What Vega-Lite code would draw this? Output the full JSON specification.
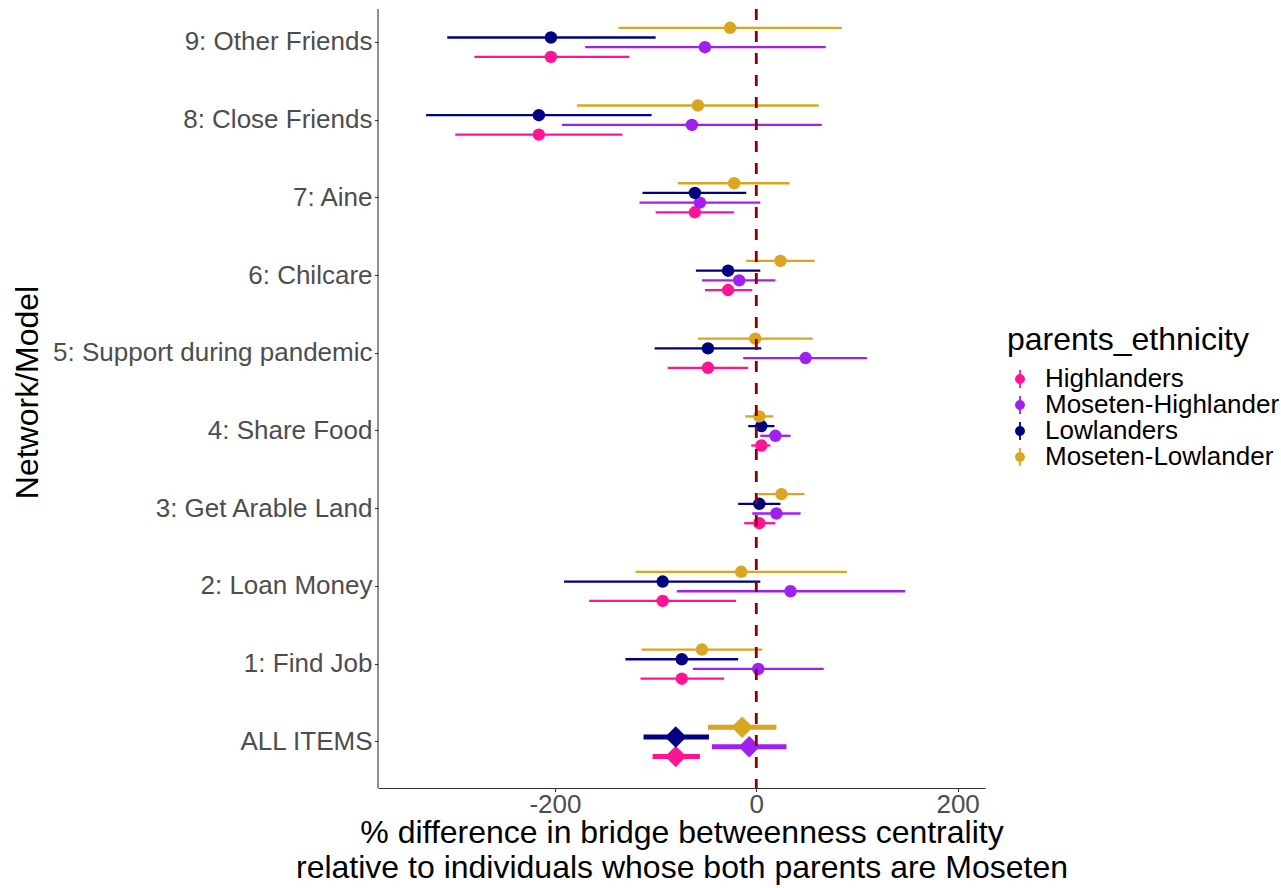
{
  "$schema": "https://vega.github.io/schema/vega-lite/v6.json",
  "width": 607,
  "height": 779,
  "autosize": {"type": "none"},
  "padding": {"left": 378, "top": 9, "right": 296, "bottom": 100},
  "background": "white",
  "config": {
    "view": {"stroke": null},
    "font": "Liberation Sans",
    "axis": {"grid": false}
  },
  "data": {"values": [
    {"model": "9: Other Friends", "group": "Highlanders", "est": -204, "low": -280, "high": -126},
    {"model": "9: Other Friends", "group": "Moseten-Highlander", "est": -51, "low": -170, "high": 69},
    {"model": "9: Other Friends", "group": "Lowlanders", "est": -204, "low": -307, "high": -100},
    {"model": "9: Other Friends", "group": "Moseten-Lowlander", "est": -26, "low": -137, "high": 85},
    {"model": "8: Close Friends", "group": "Highlanders", "est": -216, "low": -299, "high": -133},
    {"model": "8: Close Friends", "group": "Moseten-Highlander", "est": -64, "low": -193, "high": 65},
    {"model": "8: Close Friends", "group": "Lowlanders", "est": -216, "low": -328, "high": -104},
    {"model": "8: Close Friends", "group": "Moseten-Lowlander", "est": -58, "low": -178, "high": 62},
    {"model": "7: Aine", "group": "Highlanders", "est": -61, "low": -100, "high": -22},
    {"model": "7: Aine", "group": "Moseten-Highlander", "est": -56, "low": -116, "high": 4},
    {"model": "7: Aine", "group": "Lowlanders", "est": -61, "low": -113, "high": -10},
    {"model": "7: Aine", "group": "Moseten-Lowlander", "est": -22, "low": -78, "high": 33},
    {"model": "6: Chilcare", "group": "Highlanders", "est": -28, "low": -51, "high": -4},
    {"model": "6: Chilcare", "group": "Moseten-Highlander", "est": -17, "low": -54, "high": 19},
    {"model": "6: Chilcare", "group": "Lowlanders", "est": -28, "low": -60, "high": 4},
    {"model": "6: Chilcare", "group": "Moseten-Lowlander", "est": 24, "low": -10, "high": 58},
    {"model": "5: Support during pandemic", "group": "Highlanders", "est": -48, "low": -88, "high": -8},
    {"model": "5: Support during pandemic", "group": "Moseten-Highlander", "est": 49, "low": -13, "high": 110},
    {"model": "5: Support during pandemic", "group": "Lowlanders", "est": -48, "low": -101, "high": 5},
    {"model": "5: Support during pandemic", "group": "Moseten-Lowlander", "est": -1, "low": -58, "high": 56},
    {"model": "4: Share Food", "group": "Highlanders", "est": 5, "low": -5, "high": 14},
    {"model": "4: Share Food", "group": "Moseten-Highlander", "est": 19, "low": 4, "high": 34},
    {"model": "4: Share Food", "group": "Lowlanders", "est": 5, "low": -8, "high": 18},
    {"model": "4: Share Food", "group": "Moseten-Lowlander", "est": 3, "low": -11, "high": 17},
    {"model": "3: Get Arable Land", "group": "Highlanders", "est": 3, "low": -12, "high": 19},
    {"model": "3: Get Arable Land", "group": "Moseten-Highlander", "est": 20, "low": -4, "high": 44},
    {"model": "3: Get Arable Land", "group": "Lowlanders", "est": 3, "low": -18, "high": 24},
    {"model": "3: Get Arable Land", "group": "Moseten-Lowlander", "est": 25, "low": 2, "high": 48},
    {"model": "2: Loan Money", "group": "Highlanders", "est": -93, "low": -166, "high": -20},
    {"model": "2: Loan Money", "group": "Moseten-Highlander", "est": 34, "low": -79, "high": 148},
    {"model": "2: Loan Money", "group": "Lowlanders", "est": -93, "low": -191, "high": 4},
    {"model": "2: Loan Money", "group": "Moseten-Lowlander", "est": -15, "low": -120, "high": 90},
    {"model": "1: Find Job", "group": "Highlanders", "est": -74, "low": -115, "high": -32},
    {"model": "1: Find Job", "group": "Moseten-Highlander", "est": 2, "low": -63, "high": 67},
    {"model": "1: Find Job", "group": "Lowlanders", "est": -74, "low": -130, "high": -18},
    {"model": "1: Find Job", "group": "Moseten-Lowlander", "est": -54, "low": -114, "high": 6},
    {"model": "ALL ITEMS", "group": "Highlanders", "est": -80, "low": -103, "high": -56},
    {"model": "ALL ITEMS", "group": "Moseten-Highlander", "est": -7, "low": -44, "high": 30},
    {"model": "ALL ITEMS", "group": "Lowlanders", "est": -80, "low": -112, "high": -47},
    {"model": "ALL ITEMS", "group": "Moseten-Lowlander", "est": -14, "low": -48, "high": 20}
  ]},
  "layer": [
    {
      "encoding": {
        "y": {
          "field": "model", "type": "nominal",
          "scale": {"domain": ["9: Other Friends", "8: Close Friends", "7: Aine", "6: Chilcare", "5: Support during pandemic", "4: Share Food", "3: Get Arable Land", "2: Loan Money", "1: Find Job", "ALL ITEMS"], "range": [-5.5, 771.7], "paddingInner": 0, "paddingOuter": 0},
          "axis": {"domain": false, "tickColor": "#333333", "tickSize": 3.5, "tickWidth": 1.1, "labelFontSize": 26, "labelColor": "#4D4D4D", "labelPadding": 2.5, "labelLimit": 500, "titleFontSize": 32, "titleColor": "black", "titleFontWeight": "normal", "titleX": -341, "titleY": 383, "titleBaseline": "alphabetic", "titleAngle": -90, "titleAlign": "center"},
          "title": "Network/Model"
        },
        "yOffset": {
          "field": "group", "type": "nominal",
          "scale": {"domain": ["Moseten-Lowlander", "Lowlanders", "Moseten-Highlander", "Highlanders"], "range": [19.45, 58.25], "paddingInner": 0, "paddingOuter": 0}
        },
        "color": {
          "field": "group", "type": "nominal",
          "scale": {"domain": ["Highlanders", "Moseten-Highlander", "Lowlanders", "Moseten-Lowlander"], "range": ["#FF1493", "#A020F0", "#000080", "#DAA520"]},
          "legend": {"title": "parents_ethnicity", "orient": "none", "legendX": 629, "legendY": 316, "padding": 0, "titleFontSize": 32, "titleFontWeight": "normal", "titleColor": "black", "titlePadding": 9, "titleLimit": 600, "labelFontSize": 26, "labelColor": "black", "labelLimit": 600, "labelOffset": 12, "rowPadding": -4, "symbolType": "M-0.1,-1L0.1,-1L0.1,1L-0.1,1Z M0.55,0A0.55,0.55,0,1,1,-0.55,0A0.55,0.55,0,1,1,0.55,0Z", "symbolSize": 324, "symbolStrokeWidth": 0, "symbolOpacity": 1}
        }
      },
      "layer": [
        {
          "transform": [{"filter": "datum.model != 'ALL ITEMS'"}],
          "mark": {"type": "rule", "strokeWidth": 2.3},
          "encoding": {
            "x": {"field": "low", "type": "quantitative", "scale": {"domain": [-375.8, 227.2], "nice": false, "zero": false}},
            "x2": {"field": "high"}
          }
        },
        {
          "transform": [{"filter": "datum.model != 'ALL ITEMS'"}],
          "mark": {"type": "point", "shape": "circle", "filled": true, "opacity": 1, "size": 155, "strokeWidth": 0},
          "encoding": {
            "x": {"field": "est", "type": "quantitative"}
          }
        },
        {
          "transform": [{"filter": "datum.model == 'ALL ITEMS'"}],
          "mark": {"type": "rule", "strokeWidth": 5},
          "encoding": {
            "x": {"field": "low", "type": "quantitative"},
            "x2": {"field": "high"}
          }
        },
        {
          "transform": [{"filter": "datum.model == 'ALL ITEMS'"}],
          "mark": {"type": "point", "shape": "diamond", "filled": true, "opacity": 1, "size": 462, "strokeWidth": 0},
          "encoding": {
            "x": {"field": "est", "type": "quantitative"}
          }
        }
      ]
    },
    {
      "data": {"values": [{"ref": 0}]},
      "mark": {"type": "rule", "color": "#333333", "strokeWidth": 1.1},
      "encoding": {"x": {"datum": -375.8}}
    },
    {
      "data": {"values": [{"ref": 0}]},
      "mark": {"type": "rule", "color": "#8B0000", "strokeWidth": 2.8, "strokeDash": [11, 11]},
      "encoding": {
        "x": {"field": "ref", "type": "quantitative",
          "axis": {"values": [-200, 0, 200], "labelExpr": "'' + datum.value", "domainColor": "#333333", "domainWidth": 1.1, "tickColor": "#333333", "tickSize": 3.5, "tickWidth": 1.1, "labelFontSize": 26, "labelColor": "#4D4D4D", "labelPadding": 0, "titleFontSize": 32, "titleColor": "black", "titleFontWeight": "normal", "titleLineHeight": 35, "titlePadding": 0},
          "title": ["% difference in bridge betweenness centrality", "relative to individuals whose both parents are Moseten"]
        }
      }
    }
  ]
}
